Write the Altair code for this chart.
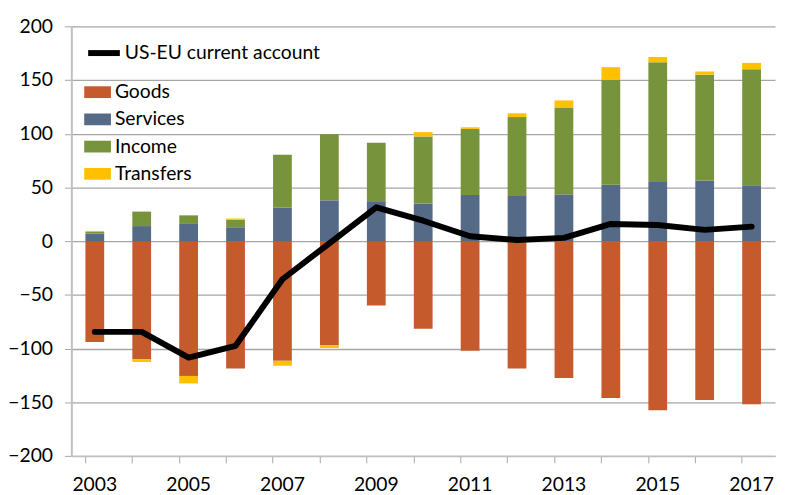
import altair as alt
import pandas as pd

years = [str(y) for y in range(2003, 2018)]
components = ["Goods", "Services", "Income", "Transfers"]
colors = ["#C55A2D", "#546A87", "#77933C", "#FFC000"]

goods = [-94, -110, -125.5, -118.5, -111.5, -97, -60, -81.5, -102, -118.5, -127.5, -146, -157.5, -148, -152]
services = [7, 14, 16, 13, 31, 38, 36.5, 35, 43, 42, 43.5, 52.5, 55, 56.5, 52]
income = [1.5, 13.5, 8, 7, 49.5, 61.5, 55, 62.5, 61.5, 73.5, 81, 97.5, 111.5, 98.5, 108]
transfers = [1, -2.5, -7, 1, -4.5, -2.5, 0, 4, 1.5, 3.5, 6.5, 12, 5, 3, 6]
current_account = [-84.5, -84.5, -108.5, -97.5, -35.5, -2, 31.5, 19, 4.5, 1, 3, 16, 15, 10.5, 13.5]

rows = []
for i, yr in enumerate(years):
    for k, (comp, vals) in enumerate(zip(components, [goods, services, income, transfers])):
        rows.append({"year": yr, "component": comp, "value": vals[i], "order": k})
bars_df = pd.DataFrame(rows)
line_df = pd.DataFrame({"year": years, "value": current_account,
                        "series": ["US-EU current account"] * len(years)})

FONT = "Lato"
FS = 19.5
x_scale = alt.Scale(domain=years, paddingInner=0.6, paddingOuter=0.3)
y_scale = alt.Scale(domain=[-200, 200], nice=False)
y_axis = alt.Axis(values=list(range(-200, 201, 50)), title=None, grid=True,
                  gridColor="#A6A6A6", gridWidth=1.3, tickSize=7,
                  tickColor="#A6A6A6", domainColor="#BFBFBF", domainWidth=2,
                  labelFont=FONT, labelFontSize=FS, labelColor="#000000",
                  labelPadding=12)

bars = alt.Chart(bars_df).mark_bar().encode(
    x=alt.X("year:N", scale=x_scale, sort=years,
            axis=alt.Axis(orient="bottom", bandPosition=0, labels=False, title=None,
                          tickSize=7, tickColor="#A6A6A6", domainColor="#BFBFBF",
                          domainWidth=1.5, grid=False)),
    y=alt.Y("value:Q", scale=y_scale, stack="zero", axis=y_axis),
    color=alt.Color("component:N", scale=alt.Scale(domain=components, range=colors),
                    legend=alt.Legend(title=None, orient="none", legendX=13, legendY=53,
                                      symbolType="M-1,-0.44H1V0.44H-1Z", symbolSize=729,
                                      symbolStrokeWidth=0, labelFont=FONT, labelFontSize=FS,
                                      labelColor="#000000", rowPadding=4.5, labelOffset=4,
                                      labelLimit=400, padding=0)),
    order=alt.Order("order:Q"),
)

line = alt.Chart(line_df).mark_line(strokeWidth=6, strokeJoin="round", strokeCap="round").encode(
    x=alt.X("year:N", scale=x_scale, sort=years,
            axis=alt.Axis(orient="bottom", ticks=False, domain=False, title=None,
                          labelAngle=0, labelFont=FONT, labelFontSize=FS, labelColor="#000000",
                          labelPadding=20,
                          labelExpr="toNumber(datum.value) % 2 == 1 ? datum.value : ''")),
    y=alt.Y("value:Q", scale=y_scale),
    stroke=alt.Stroke("series:N", scale=alt.Scale(range=["#000000"]),
                      legend=alt.Legend(title=None, orient="none", legendX=14, legendY=8,
                                        symbolType="stroke", symbolSize=1024,
                                        symbolStrokeWidth=6, labelFont=FONT, labelFontSize=FS,
                                        labelColor="#000000", labelOffset=2, labelLimit=400,
                                        padding=0)),
)

chart = alt.layer(bars, line).resolve_axis(x="independent").resolve_legend(
    color="independent", stroke="independent"
).properties(
    width=711, height=434,
    autosize=alt.AutoSizeParams(type="none"),
    padding={"left": 64, "top": 16, "right": 4, "bottom": 40},
    background="white",
).configure_view(stroke=None)

chart.save("out.html", embed_options={"renderer": "svg", "actions": False})
